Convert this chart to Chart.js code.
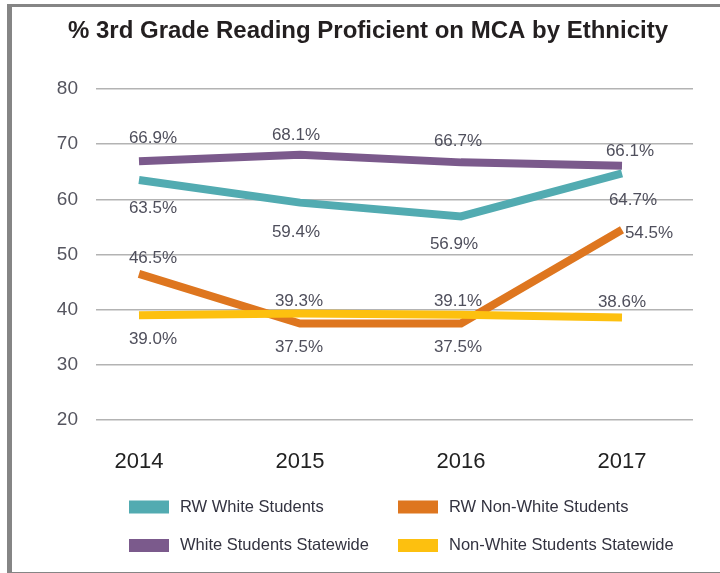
<!DOCTYPE html>
<html>
<head>
<meta charset="utf-8">
<script src="https://cdn.jsdelivr.net/npm/chart.js@4/dist/chart.umd.min.js"></script>
<style>
  html, body { margin: 0; padding: 0; background: #ffffff; }
  #frame { position: absolute; left: 7px; top: 4px; width: 720px; height: 565px;
           border-left: 5px solid #858585; border-top: 3px solid #858585; border-bottom: 3px solid #858585; }
  #wrap { position: absolute; left: 0; top: 0; width: 720px; height: 573px; }
</style>
</head>
<body>
<div id="frame"></div>
<div id="wrap"><canvas id="c" width="720" height="573"></canvas></div>
<script>
// ---- data ----
const titleText = '% 3rd Grade Reading Proficient on MCA by Ethnicity';
const years = [2014, 2015, 2016, 2017];
const seriesNames = ['RW White Students', 'RW Non-White Students', 'White Students Statewide', 'Non-White Students Statewide'];
const rwWhite = [63.5, 59.4, 56.9, 64.7];
const rwNonWhite = [46.5, 37.5, 37.5, 54.5];
const whiteStatewide = [66.9, 68.1, 66.7, 66.1];
const nonWhiteStatewide = [39.0, 39.3, 39.1, 38.6];
const yTicks = [20, 30, 40, 50, 60, 70, 80];

// ---- styles ----
const colors = ['#52abb1', '#de761f', '#7b5a8c', '#fdc00f'];
const labelOffsets = [
  [[14, 28], [-4, 30], [-7, 28], [11, 27]],    // RW White
  [[14, -15], [-1, 24], [-3, 24], [27, 4]],    // RW Non-White
  [[14, -23], [-4, -19], [-3, -21], [8, -14]], // White Statewide
  [[14, 24], [-1, -12], [-3, -13], [0, -15]]   // Non-White Statewide
];
const legendPos = [
  {x: 129, y: 507}, {x: 398, y: 507},
  {x: 129, y: 545.5}, {x: 398, y: 545.5}
];

const seriesValues = [rwWhite, rwNonWhite, whiteStatewide, nonWhiteStatewide];
const drawOrder = [3, 2, 4, 1]; // lower = drawn on top

const datasets = seriesValues.map((vals, i) => ({
  label: seriesNames[i],
  data: years.map((y, j) => ({x: y, y: vals[j]})),
  borderColor: colors[i],
  backgroundColor: colors[i],
  borderWidth: 8,
  pointRadius: 0,
  pointHoverRadius: 0,
  tension: 0,
  borderCapStyle: 'butt',
  borderJoinStyle: 'miter',
  fill: false,
  order: drawOrder[i]
}));

const FONT = '"Liberation Sans", Arial, Helvetica, sans-serif';

const extras = {
  id: 'extras',
  afterDraw(chart) {
    const ctx = chart.ctx;
    ctx.save();
    // title
    ctx.fillStyle = '#231f20';
    ctx.font = 'bold 24px ' + FONT;
    ctx.textAlign = 'center';
    ctx.textBaseline = 'middle';
    ctx.fillText(titleText, 368, 31);
    // data labels
    ctx.font = '17px ' + FONT;
    ctx.fillStyle = '#4f4f5c';
    chart.data.datasets.forEach((ds, i) => {
      const meta = chart.getDatasetMeta(i);
      meta.data.forEach((pt, j) => {
        const off = labelOffsets[i][j];
        ctx.fillText(seriesValues[i][j].toFixed(1) + '%', pt.x + off[0], pt.y + off[1]);
      });
    });
    // legend
    ctx.font = '16.5px ' + FONT;
    ctx.textAlign = 'left';
    chart.data.datasets.forEach((ds, i) => {
      const p = legendPos[i];
      ctx.fillStyle = ds.borderColor;
      ctx.fillRect(p.x, p.y - 6.5, 40, 13);
      ctx.fillStyle = '#333340';
      ctx.fillText(ds.label, p.x + 51, p.y);
    });
    ctx.restore();
  }
};

new Chart(document.getElementById('c'), {
  type: 'line',
  data: { datasets },
  plugins: [extras],
  options: {
    responsive: false,
    animation: false,
    events: [],
    layout: { padding: { top: 89, right: 27, bottom: 98, left: 0 } },
    plugins: {
      legend: { display: false },
      title: { display: false },
      tooltip: { enabled: false }
    },
    scales: {
      x: {
        type: 'linear',
        min: 2013.733,
        max: 2017.441,
        afterBuildTicks(scale) { scale.ticks = years.map(v => ({ value: v })); },
        afterFit(scale) { scale.height = 55; },
        grid: { display: false, drawTicks: false },
        border: { display: false },
        ticks: {
          color: '#222222',
          font: { family: FONT, size: 22 },
          padding: 29,
          maxRotation: 0,
          callback: v => String(v)
        }
      },
      y: {
        min: 20,
        max: 80,
        afterBuildTicks(scale) { scale.ticks = yTicks.map(v => ({ value: v })); },
        afterFit(scale) { scale.width = 96; },
        grid: { color: '#b3b3b3', lineWidth: 1.5, drawTicks: false },
        border: { display: false },
        ticks: {
          color: '#55555f',
          font: { family: FONT, size: 19 },
          padding: 18
        }
      }
    }
  }
});
</script>
</body>
</html>
